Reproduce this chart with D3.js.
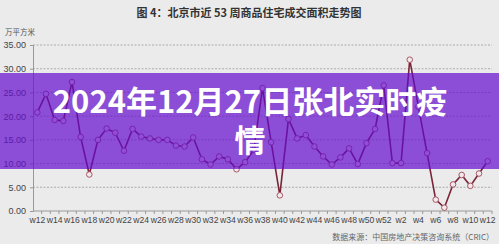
<!DOCTYPE html>
<html>
<head>
<meta charset="utf-8">
<script src="https://cdn.jsdelivr.net/npm/d3@7/dist/d3.min.js"></script>
<style>
  html, body { margin: 0; padding: 0; background: #ebebeb; }
  svg { display: block; }
</style>
</head>
<body>
<div id="chart"></div>
<script>
// Weekly categories (w12 of last year through w12 of this year)
const weeks = [
  'w12','w13','w14','w15','w16','w17','w18','w19','w20','w21','w22','w23','w24','w25',
  'w26','w27','w28','w29','w30','w31','w32','w33','w34','w35','w36','w37','w38','w39',
  'w40','w41','w42','w43','w44','w45','w46','w47','w48','w49','w50','w51','w52',
  'w1','w2','w3','w4','w5','w6','w7','w8','w9','w10','w11','w12b'
];

// Transaction area, 万平方米
const area = [
  20.8, 24.7, 19.2, 19.0, 27.2, 15.6, 7.7, 15.0, 17.4, 16.5, 12.7, 17.3, 15.7, 15.3,
  15.0, 15.0, 13.8, 13.6, 15.5, 10.9, 9.8, 11.5, 10.9, 8.8, 10.3, 12.9, 25.9, 14.5,
  3.3, 19.4, 15.3, 16.0, 13.6, 11.5, 9.8, 11.3, 13.2, 9.9, 14.3, 17.3, 26.5,
  10.1, 10.1, 31.9, 22.0, 12.2, 2.4, 0.7, 5.6, 7.6, 5.3, 7.9, 10.5
];

const yTicks = [0, 5, 10, 15, 20, 25, 30, 35];

const chartTitle = '图 4：北京市近 53 周商品住宅成交面积走势图';
const unitLabel = '万平方米';
const sourceLabel = '数据来源：中国房地产决策咨询系统（CRIC）';
const bannerLines = ['2024年12月27日张北实时疫', '情'];

const width = 499;
const height = 244;
const margin = { top: 45, right: 7, bottom: 33, left: 33 };

const svg = d3.select('#chart')
  .append('svg')
  .attr('width', width)
  .attr('height', height);

svg.append('rect')
  .attr('width', width)
  .attr('height', height)
  .attr('fill', '#ebebeb');

const x = d3.scaleBand()
  .domain(weeks)
  .range([margin.left, width - margin.right])
  .padding(0);

const y = d3.scaleLinear()
  .domain([0, 35])
  .range([height - margin.bottom, margin.top]);

const cjk = "'Noto Sans CJK SC', 'Noto Sans', sans-serif";
const latin = "'Liberation Sans', Arial, sans-serif";

// Title
svg.append('text')
  .attr('x', 249)
  .attr('y', 17)
  .attr('text-anchor', 'middle')
  .attr('font-family', cjk)
  .attr('font-size', '11px')
  .attr('font-weight', 700)
  .attr('fill', '#333')
  .text(chartTitle);

// Unit label
svg.append('text')
  .attr('x', 5)
  .attr('y', 35)
  .attr('font-family', cjk)
  .attr('font-size', '7.5px')
  .attr('fill', '#555')
  .text(unitLabel);

// Grid lines
svg.append('g')
  .selectAll('line')
  .data(yTicks.filter(d => d > 0))
  .join('line')
  .attr('x1', margin.left)
  .attr('x2', width - margin.right)
  .attr('y1', d => y(d))
  .attr('y2', d => y(d))
  .attr('stroke', '#9a9a9a')
  .attr('stroke-width', 0.8)
  .attr('stroke-dasharray', '2,1.5');

// Y axis
const yAxis = svg.append('g')
  .attr('transform', `translate(${margin.left},0)`)
  .call(d3.axisLeft(y).tickValues(yTicks).tickSize(3).tickFormat(d3.format('.2f')));

yAxis.select('.domain').attr('stroke', '#999');
yAxis.selectAll('.tick line').attr('stroke', '#999');
yAxis.selectAll('.tick text')
  .attr('font-family', latin)
  .attr('font-size', '9px')
  .attr('fill', '#444')
  .attr('x', -7);

// X axis with a tick between every week
const xAxisG = svg.append('g')
  .attr('transform', `translate(0,${y(0)})`);

xAxisG.append('line')
  .attr('x1', margin.left)
  .attr('x2', width - margin.right)
  .attr('stroke', '#999');

xAxisG.selectAll('line.wtick')
  .data(weeks)
  .join('line')
  .attr('class', 'wtick')
  .attr('x1', d => x(d) + x.bandwidth())
  .attr('x2', d => x(d) + x.bandwidth())
  .attr('y1', 0)
  .attr('y2', 3)
  .attr('stroke', '#999');

xAxisG.selectAll('text')
  .data(weeks.filter((d, i) => i % 2 === 0))
  .join('text')
  .attr('x', d => x(d) + x.bandwidth() / 2)
  .attr('y', 12)
  .attr('text-anchor', 'middle')
  .attr('font-family', latin)
  .attr('font-size', '8.6px')
  .attr('fill', '#444')
  .text(d => d.replace('b', ''));

// Series line
const line = d3.line()
  .x((d, i) => x(weeks[i]) + x.bandwidth() / 2)
  .y(d => y(d));

svg.append('path')
  .datum(area)
  .attr('d', line)
  .attr('fill', 'none')
  .attr('stroke', '#7a2438')
  .attr('stroke-width', 1.6);

svg.append('g')
  .selectAll('circle')
  .data(area)
  .join('circle')
  .attr('cx', (d, i) => x(weeks[i]) + x.bandwidth() / 2)
  .attr('cy', d => y(d))
  .attr('r', 2.8)
  .attr('fill', '#f3e9ea')
  .attr('stroke', '#a55566')
  .attr('stroke-width', 1);

// Source note
svg.append('text')
  .attr('x', 494)
  .attr('y', 240)
  .attr('text-anchor', 'end')
  .attr('font-family', cjk)
  .attr('font-size', '8px')
  .attr('fill', '#666')
  .text(sourceLabel);

// Purple headline banner
svg.append('rect')
  .attr('x', 0)
  .attr('y', 73)
  .attr('width', width)
  .attr('height', 96)
  .attr('fill', 'rgb(100, 12, 205)')
  .attr('opacity', 0.7);

svg.append('g')
  .selectAll('text')
  .data(bannerLines)
  .join('text')
  .attr('x', 250)
  .attr('y', (d, i) => 113 + i * 39)
  .attr('text-anchor', 'middle')
  .attr('font-family', cjk)
  .attr('font-size', '31px')
  .attr('font-weight', 700)
  .attr('fill', '#fff')
  .text(d => d);
</script>
</body>
</html>
